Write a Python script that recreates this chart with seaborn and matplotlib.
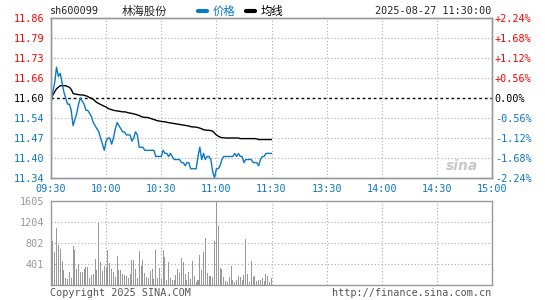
#!/usr/bin/env python3
"""
Intraday minute chart, sh600099 (Sina style)
"""

import numpy as np
import pandas as pd
import matplotlib
matplotlib.use("Agg")
import matplotlib.pyplot as plt
from matplotlib.lines import Line2D
import seaborn as sns

# ---- data ----
prev_close = 11.60

price = [11.58, 11.62, 11.65, 11.70, 11.67, 11.68, 11.65, 11.62, 11.60, 11.58,
         11.58, 11.56, 11.51, 11.53, 11.55, 11.58, 11.60, 11.59, 11.58, 11.56,
         11.56, 11.55, 11.54, 11.52, 11.51, 11.50, 11.49, 11.47, 11.45, 11.43,
         11.46, 11.47, 11.47, 11.45, 11.47, 11.50, 11.52, 11.51, 11.50, 11.49,
         11.49, 11.48, 11.48, 11.48, 11.46, 11.47, 11.49, 11.48, 11.44, 11.44,
         11.44, 11.43, 11.43, 11.43, 11.43, 11.43, 11.43, 11.41, 11.41, 11.41,
         11.41, 11.43, 11.42, 11.42, 11.41, 11.42, 11.41, 11.40, 11.40, 11.40,
         11.40, 11.39, 11.39, 11.38, 11.39, 11.39, 11.37, 11.37, 11.37, 11.37,
         11.41, 11.44, 11.40, 11.42, 11.40, 11.41, 11.41, 11.40, 11.36, 11.34,
         11.37, 11.37, 11.38, 11.40, 11.41, 11.41, 11.41, 11.41, 11.41, 11.41,
         11.42, 11.41, 11.42, 11.41, 11.41, 11.39, 11.40, 11.40, 11.40, 11.40,
         11.39, 11.39, 11.39, 11.38, 11.40, 11.41, 11.41, 11.42, 11.42, 11.42,
         11.42]

avg_price = [11.590, 11.610, 11.620, 11.630, 11.635, 11.640, 11.640, 11.640, 11.640, 11.637,
             11.635, 11.628, 11.615, 11.613, 11.612, 11.611, 11.610, 11.610, 11.609, 11.607,
             11.605, 11.601, 11.599, 11.596, 11.590, 11.585, 11.582, 11.579, 11.576, 11.573,
             11.571, 11.566, 11.564, 11.562, 11.560, 11.559, 11.558, 11.557, 11.556, 11.555,
             11.555, 11.554, 11.552, 11.551, 11.550, 11.548, 11.547, 11.545, 11.543, 11.540,
             11.538, 11.537, 11.537, 11.536, 11.534, 11.532, 11.530, 11.528, 11.526, 11.525,
             11.524, 11.523, 11.523, 11.521, 11.520, 11.519, 11.518, 11.517, 11.516, 11.515,
             11.514, 11.513, 11.512, 11.511, 11.510, 11.509, 11.507, 11.506, 11.506, 11.505,
             11.504, 11.502, 11.500, 11.497, 11.496, 11.495, 11.495, 11.494, 11.492, 11.486,
             11.480, 11.476, 11.473, 11.471, 11.471, 11.470, 11.470, 11.470, 11.470, 11.470,
             11.470, 11.470, 11.470, 11.468, 11.468, 11.468, 11.468, 11.468, 11.468, 11.468,
             11.468, 11.468, 11.467, 11.465, 11.465, 11.465, 11.465, 11.465, 11.465, 11.465,
             11.465]

volume = [306, 834, 624, 1089, 771, 694, 465, 293, 134, 121,
          248, 140, 752, 675, 312, 408, 242, 248, 306, 344,
          344, 127, 185, 217, 503, 280, 1178, 433, 261, 369,
          344, 662, 420, 306, 255, 153, 560, 280, 293, 204,
          191, 166, 140, 217, 484, 471, 306, 134, 656, 357,
          478, 229, 159, 134, 261, 312, 121, 675, 127, 325,
          115, 675, 535, 89, 446, 127, 102, 102, 197, 306,
          220, 522, 433, 204, 102, 242, 115, 465, 166, 64,
          100, 580, 280, 637, 904, 229, 178, 166, 146, 847,
          1605, 1134, 331, 306, 146, 70, 51, 153, 369, 89,
          51, 102, 166, 146, 102, 185, 879, 204, 64, 459,
          146, 166, 70, 102, 102, 140, 70, 217, 166, 64,
          134]

price_ticks = ["11.34", "11.40", "11.47", "11.54", "11.60", "11.66", "11.73", "11.79", "11.86"]
pct_ticks = ["-2.24%", "-1.68%", "-1.12%", "-0.56%", "0.00%", "+0.56%", "+1.12%", "+1.68%", "+2.24%"]
vol_ticks = ["401", "802", "1204", "1605"]
time_ticks = ["09:30", "10:00", "10:30", "11:00", "11:30", "13:30", "14:00", "14:30", "15:00"]

df = pd.DataFrame({"minute": np.arange(len(price)), "price": price,
                   "avg": avg_price, "volume": volume})

BLUE = "#0a78c8"
RED = "#ff0000"
GRAY = "#999999"
MONO = "DejaVu Sans Mono"

sns.set_style("white")
plt.rcParams["font.family"] = [MONO, "Noto Sans CJK SC"]

W, H = 545, 300
fig = plt.figure(figsize=(W / 100, H / 100), dpi=100)


def px_axes(left, top, right, bottom):
    return fig.add_axes([left / W, 1 - bottom / H, (right - left) / W, (bottom - top) / H])


ax = px_axes(51, 18, 492, 178)
axv = px_axes(51, 201, 492, 285)

# ---- price panel ----
sns.lineplot(data=df, x="minute", y="avg", ax=ax, color="black", linewidth=1)
sns.lineplot(data=df, x="minute", y="price", ax=ax, color=BLUE, linewidth=1)

ylo, yhi = float(price_ticks[0]), float(price_ticks[-1])
ypos = np.linspace(ylo, yhi, len(price_ticks))
ax.set_ylim(ylo, yhi)
ax.set_xlim(0, 240)
ax.set_yticks(ypos)
ax.set_yticklabels(price_ticks)
ax.set_xticks(np.arange(0, 241, 30))
ax.set_xticklabels(time_ticks)
ax.set_xlabel("")
ax.set_ylabel("")
for y in ypos[1:-1]:
    if abs(y - prev_close) < 1e-6:
        ax.axhline(y, color="black", linestyle=(0, (2, 2)), linewidth=1, zorder=1)
    else:
        ax.axhline(y, color="#aaaaaa", linestyle=(0, (1, 2)), linewidth=0.8, zorder=0)
for x in range(30, 240, 30):
    ax.axvline(x, color="#aaaaaa", linestyle=(0, (1, 2)), linewidth=0.8, zorder=0)


def level_color(y):
    if abs(y - prev_close) < 1e-6:
        return "black"
    return RED if y > prev_close else BLUE


for lab, y in zip(ax.get_yticklabels(), ypos):
    lab.set_color(level_color(y))
ax.tick_params(axis="y", length=0, pad=5, labelsize=7.3)
ax.tick_params(axis="x", length=0, pad=4, labelsize=7.3, labelcolor=BLUE)

axr = ax.twinx()
axr.set_ylim(ylo, yhi)
axr.set_yticks(ypos)
axr.set_yticklabels(pct_ticks)
for lab, y in zip(axr.get_yticklabels(), ypos):
    lab.set_color(level_color(y))
axr.tick_params(axis="y", length=0, pad=2, labelsize=7.3)

# ---- volume panel ----
sns.barplot(data=df, x="minute", y="volume", ax=axv, native_scale=True,
            color=GRAY, width=0.55, linewidth=0, saturation=1)
vmax = float(vol_ticks[-1])
vpos = np.linspace(0, vmax, len(vol_ticks) + 1)[1:]
axv.set_ylim(0, vmax)
axv.set_xlim(0, 240)
axv.set_yticks(vpos)
axv.set_yticklabels(vol_ticks)
axv.set_xticks([])
axv.set_xlabel("")
axv.set_ylabel("")
for y in vpos[:-1]:
    axv.axhline(y, color="#aaaaaa", linestyle=(0, (1, 2)), linewidth=0.8, zorder=0)
for x in range(30, 240, 30):
    axv.axvline(x, color="#aaaaaa", linestyle=(0, (1, 2)), linewidth=0.8, zorder=0)
axv.tick_params(axis="y", length=0, pad=5, labelsize=7.3, labelcolor=GRAY)

for a in (ax, axr, axv):
    for s in a.spines.values():
        s.set_color(GRAY)
        s.set_linewidth(1)

# ---- header / footer text ----
fig.text(50 / W, 1 - 11 / H, "sh600099", fontsize=7.3, va="center", family=MONO)
fig.text(122 / W, 1 - 11 / H, "林海股份", fontsize=8.2, va="center",
         family=["Noto Sans CJK SC", MONO])
handles = [Line2D([], [], color=BLUE, linewidth=3), Line2D([], [], color="black", linewidth=3)]
fig.legend(handles, ["价格", "均线"], loc="center left", bbox_to_anchor=(198 / W, 1 - 11 / H),
           ncol=2, frameon=False, handlelength=0.8, handletextpad=0.5, columnspacing=0.9,
           labelcolor=[BLUE, "black"], prop={"family": ["Noto Sans CJK SC"], "size": 8.2},
           borderaxespad=0, borderpad=0)
fig.text(491 / W, 1 - 11 / H, "2025-08-27 11:30:00", fontsize=7.3, va="center",
         ha="right", family=MONO)
fig.text(50 / W, 1 - 293 / H, "Copyright 2025 SINA.COM", fontsize=7.3, va="center",
         color="#555555", family=MONO)
fig.text(491 / W, 1 - 293 / H, "http://finance.sina.com.cn", fontsize=7.3, va="center",
         ha="right", color="#555555", family=MONO)
fig.text(462 / W, 1 - 166 / H, "sina", fontsize=10, va="center", ha="center",
         style="italic", weight="bold", color="#c8c8c8", family="DejaVu Sans")

fig.savefig("out.png", dpi=100)
